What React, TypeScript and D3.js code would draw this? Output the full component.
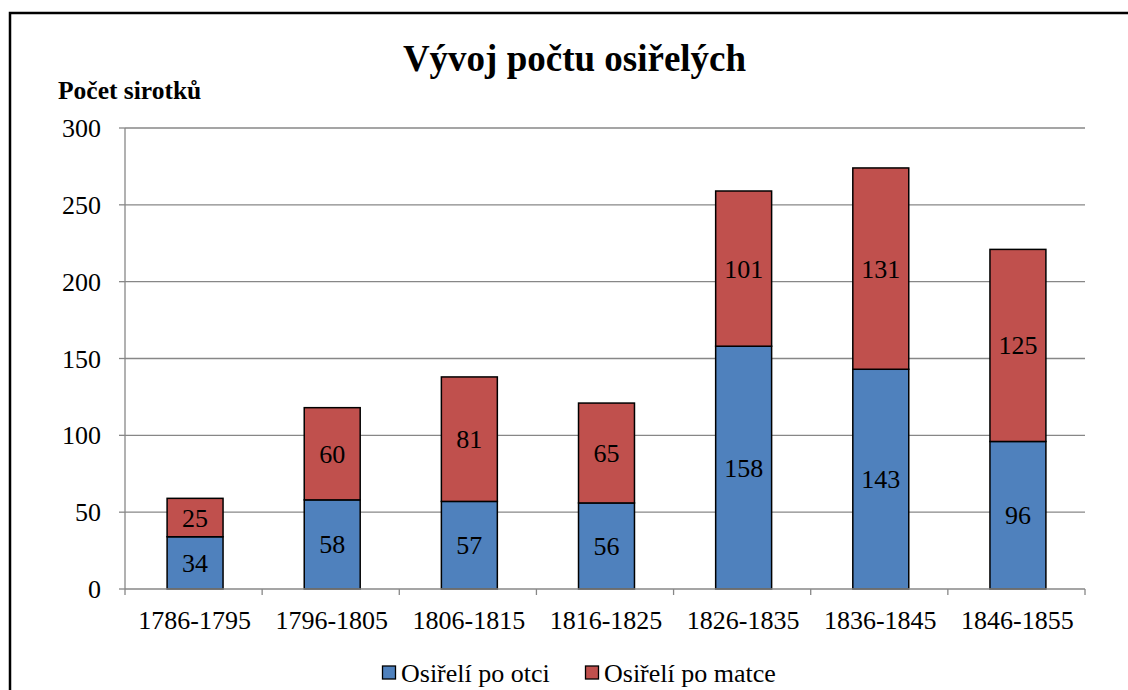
import React from "react";
import * as d3 from "d3";

const categories = ["1786-1795", "1796-1805", "1806-1815", "1816-1825", "1826-1835", "1836-1845", "1846-1855"];
const fatherValues = [34, 58, 57, 56, 158, 143, 96];
const motherValues = [25, 60, 81, 65, 101, 131, 125];
const yTicks = [0, 50, 100, 150, 200, 250, 300];
const seriesNames = ["Osiřelí po otci", "Osiřelí po matce"];
const seriesColors = ["#4F81BD", "#C0504D"];

const W = 1128;
const H = 690;
const FONT = "'Liberation Serif', 'Times New Roman', serif";

export default function App() {
  const x = d3.scaleBand<string>().domain(categories).range([126.5, 1086.5]).paddingInner(0.592).paddingOuter(0.296);
  const band = d3.scaleBand<string>().domain(categories).range([125, 1085]);
  const y = d3.scaleLinear().domain([0, 300]).range([589, 128]);

  const rows = categories.map((c, i) => ({ c, f: fatherValues[i], m: motherValues[i] }));

  return (
    <svg width={W} height={H} style={{ position: "absolute", left: 0, top: 0, background: "#fff" }}>
      <rect x={10} y={13} width={W + 20} height={H + 20} fill="#fff" stroke="#000" strokeWidth={2.5} />
      <text x={574.5} y={71} textAnchor="middle" fontFamily={FONT} fontWeight="bold" fontSize={37}>
        Vývoj počtu osiřelých
      </text>
      <text x={58} y={99} fontFamily={FONT} fontWeight="bold" fontSize={25.5}>
        Počet sirotků
      </text>
      {yTicks.map((t) => (
        <g key={t}>
          {t > 0 && <line x1={125} x2={1085} y1={y(t)} y2={y(t)} stroke="#878787" strokeWidth={1.3} />}
          <line x1={119} x2={125} y1={y(t)} y2={y(t)} stroke="#878787" strokeWidth={1.3} />
          <text x={101} y={y(t) + 9} textAnchor="end" fontFamily={FONT} fontSize={26}>
            {t}
          </text>
        </g>
      ))}
      <line x1={125} x2={125} y1={y(300)} y2={y(0)} stroke="#878787" strokeWidth={1.3} />
      {rows.map((r) => (
        <g key={r.c}>
          <rect x={x(r.c)} y={y(r.f)} width={x.bandwidth()} height={y(0) - y(r.f)} fill={seriesColors[0]} stroke="#000" strokeWidth={1.5} />
          <rect x={x(r.c)} y={y(r.f + r.m)} width={x.bandwidth()} height={y(r.f) - y(r.f + r.m)} fill={seriesColors[1]} stroke="#000" strokeWidth={1.5} />
          <text x={x(r.c)! + x.bandwidth() / 2} y={(y(0) + y(r.f)) / 2 + 9} textAnchor="middle" fontFamily={FONT} fontSize={26}>
            {r.f}
          </text>
          <text x={x(r.c)! + x.bandwidth() / 2} y={(y(r.f) + y(r.f + r.m)) / 2 + 9} textAnchor="middle" fontFamily={FONT} fontSize={26}>
            {r.m}
          </text>
          <text x={band(r.c)! + band.bandwidth() / 2 + 1} y={629} textAnchor="middle" fontFamily={FONT} fontSize={26}>
            {r.c}
          </text>
        </g>
      ))}
      <line x1={125} x2={1085} y1={y(0)} y2={y(0)} stroke="#878787" strokeWidth={1.3} />
      {categories.concat([""]).map((c, i) => {
        const xx = 125 + i * band.bandwidth();
        return <line key={i} x1={xx} x2={xx} y1={y(0)} y2={y(0) + 6} stroke="#878787" strokeWidth={1.3} />;
      })}
      {seriesNames.map((n, i) => {
        const lx = i === 0 ? 382.5 : 585.5;
        return (
          <g key={n}>
            <rect x={lx} y={666} width={13} height={13} fill={seriesColors[i]} stroke="#000" strokeWidth={1.3} />
            <text x={lx + 18.5} y={682} fontFamily={FONT} fontSize={26}>
              {n}
            </text>
          </g>
        );
      })}
    </svg>
  );
}
